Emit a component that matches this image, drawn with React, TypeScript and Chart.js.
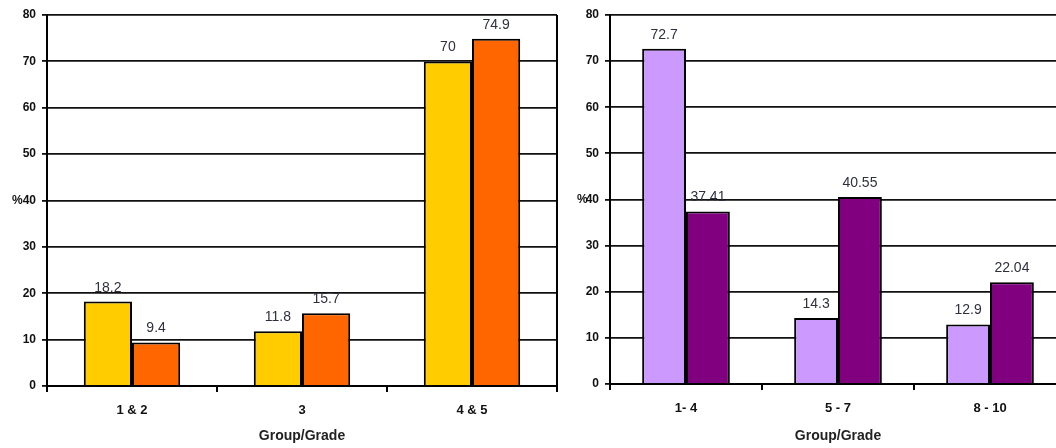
import React, { useEffect, useRef } from 'react';
import { Chart, registerables } from 'chart.js';

Chart.register(...registerables);

// ---- Data ----
const leftCategories = ['1 & 2', '3', '4 & 5'];
const leftSeriesA = [18.2, 11.8, 70];
const leftSeriesB = [9.4, 15.7, 74.9];

const rightCategories = ['1- 4', '5 - 7', '8 - 10'];
const rightSeriesA = [72.7, 14.3, 12.9];
const rightSeriesB = [37.41, 40.55, 22.04];

const yMin = 0;
const yMax = 80;
const yStep = 10;
const xTitle = 'Group/Grade';
const yTitle = '%';

const FONT = '"Liberation Sans", Arial, sans-serif';

const valueLabelPlugin = {
  id: 'valueLabels',
  afterDatasetsDraw(chart: any) {
    const ctx = chart.ctx;
    ctx.save();
    ctx.font = `14px ${FONT}`;
    ctx.fillStyle = '#2e3040';
    ctx.textAlign = 'center';
    ctx.textBaseline = 'alphabetic';
    chart.data.datasets.forEach((ds: any, i: number) => {
      const meta = chart.getDatasetMeta(i);
      meta.data.forEach((bar: any, j: number) => {
        ctx.fillText(String(ds.data[j]), bar.x, bar.y - 10);
      });
    });
    ctx.restore();
  },
};

const framePlugin = {
  id: 'frame',
  afterDraw(chart: any, _args: any, opts: any) {
    const { ctx, chartArea } = chart;
    ctx.save();
    if (opts.rightBorder) {
      ctx.strokeStyle = '#000';
      ctx.lineWidth = 2;
      ctx.beginPath();
      ctx.moveTo(chartArea.right, chartArea.top);
      ctx.lineTo(chartArea.right, chartArea.bottom + 6);
      ctx.stroke();
    }
    const y = chart.scales.y.getPixelForValue(opts.percentAt);
    ctx.font = `bold 12px ${FONT}`;
    ctx.fillStyle = '#111';
    ctx.textAlign = 'left';
    ctx.textBaseline = 'middle';
    ctx.fillText(yTitle, chartArea.left + opts.percentDx, y);
    ctx.restore();
  },
};

type Cfg = {
  categories: string[];
  a: number[];
  b: number[];
  colorA: string;
  colorB: string;
  yWidth: number;
  xHeight: number;
  padRight: number;
  catPct: number;
  rightBorder: boolean;
  percentDx: number;
};

function makeChart(canvas: HTMLCanvasElement, c: Cfg) {
  return new Chart(canvas, {
    type: 'bar',
    data: {
      labels: c.categories,
      datasets: [
        {
          data: c.a,
          backgroundColor: c.colorA,
          borderColor: '#000',
          borderWidth: 2,
          categoryPercentage: c.catPct,
          barPercentage: 1,
        },
        {
          data: c.b,
          backgroundColor: c.colorB,
          borderColor: '#000',
          borderWidth: 2,
          categoryPercentage: c.catPct,
          barPercentage: 1,
        },
      ],
    },
    options: {
      animation: false,
      responsive: false,
      devicePixelRatio: 1,
      layout: { padding: { top: 15, right: c.padRight, left: 0, bottom: 0 } },
      plugins: {
        legend: { display: false },
        tooltip: { enabled: false },
        frame: { rightBorder: c.rightBorder, percentAt: 40, percentDx: c.percentDx },
      } as any,
      scales: {
        x: {
          grid: {
            display: true,
            drawOnChartArea: false,
            drawTicks: true,
            tickLength: 6,
            color: '#000',
            lineWidth: 2,
            offset: true,
          },
          border: { color: '#000', width: 2 },
          ticks: {
            font: { family: FONT, size: 13, weight: 'bold' },
            color: '#111',
            padding: 11,
          },
          title: {
            display: true,
            text: xTitle,
            font: { family: FONT, size: 14, weight: 'bold' },
            color: '#222',
            padding: { top: 0, bottom: 3 },
          },
          afterFit: (s: any) => {
            s.height = c.xHeight;
          },
        },
        y: {
          min: yMin,
          max: yMax,
          ticks: {
            stepSize: yStep,
            font: { family: FONT, size: 12, weight: 'bold' },
            color: '#111',
            padding: 6,
          },
          grid: { color: '#111', lineWidth: 1.8, tickLength: 5, drawTicks: true },
          border: { color: '#000', width: 2 },
          afterFit: (s: any) => {
            s.width = c.yWidth;
          },
        },
      } as any,
    },
    plugins: [valueLabelPlugin, framePlugin],
  } as any);
}

export default function App() {
  const leftRef = useRef<HTMLCanvasElement>(null);
  const rightRef = useRef<HTMLCanvasElement>(null);

  useEffect(() => {
    const l = makeChart(leftRef.current!, {
      categories: leftCategories,
      a: leftSeriesA,
      b: leftSeriesB,
      colorA: '#FFCC00',
      colorB: '#FF6600',
      yWidth: 47,
      xHeight: 62,
      padRight: 3,
      catPct: 0.567,
      rightBorder: true,
      percentDx: -35,
    });
    const r = makeChart(rightRef.current!, {
      categories: rightCategories,
      a: rightSeriesA,
      b: rightSeriesB,
      colorA: '#CC99FF',
      colorB: '#800080',
      yWidth: 50,
      xHeight: 64,
      padRight: 0,
      catPct: 0.577,
      rightBorder: false,
      percentDx: -33,
    });
    return () => {
      l.destroy();
      r.destroy();
    };
  }, []);

  return (
    <div
      style={{
        position: 'absolute',
        left: 0,
        top: 0,
        width: 1056,
        height: 448,
        overflow: 'hidden',
        background: '#fff',
      }}
    >
      <canvas
        ref={leftRef}
        width={560}
        height={448}
        style={{ position: 'absolute', left: 0, top: 0, width: 560, height: 448 }}
      />
      <canvas
        ref={rightRef}
        width={506}
        height={448}
        style={{ position: 'absolute', left: 560, top: 0, width: 506, height: 448 }}
      />
    </div>
  );
}
